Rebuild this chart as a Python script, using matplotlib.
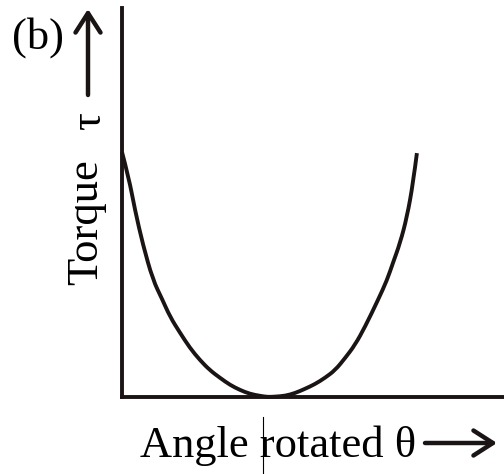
import matplotlib.pyplot as plt
from matplotlib.path import Path
from matplotlib.patches import PathPatch

# torque vs. angle rotated (arbitrary units)
theta = [0.00, 0.18, 0.34, 0.55, 0.81, 1.05, 1.26, 1.52, 1.78, 2.04, 2.30, 2.57,
         2.83, 3.09, 3.35, 3.61, 3.82, 4.01, 4.27, 4.53, 4.79, 5.05, 5.31, 5.58,
         5.84, 6.10, 6.36, 6.70, 6.94, 7.09, 7.28, 7.46, 7.62, 7.72]
torque = [6.30, 5.63, 4.81, 3.91, 3.01, 2.52, 2.06, 1.65, 1.26, 0.95, 0.69, 0.49,
          0.31, 0.18, 0.08, 0.03, 0.00, 0.01, 0.03, 0.10, 0.21, 0.33, 0.49, 0.69,
          1.00, 1.34, 1.80, 2.49, 3.01, 3.44, 3.96, 4.63, 5.50, 6.27]

plt.rcParams['font.family'] = ['Liberation Serif', 'DejaVu Serif']
lw = 2.8
ink = '#1a1414'


def smooth_path(xs, ys):
    # quadratic bezier through midpoints, the given points act as controls
    pts = list(zip(xs, ys))
    verts = [pts[0]]
    codes = [Path.MOVETO]
    for i in range(1, len(pts) - 1):
        nxt = pts[i + 1]
        if i < len(pts) - 2:
            end = ((pts[i][0] + nxt[0]) / 2, (pts[i][1] + nxt[1]) / 2)
        else:
            end = nxt
        verts += [pts[i], end]
        codes += [Path.CURVE3, Path.CURVE3]
    return Path(verts, codes)


fig = plt.figure(figsize=(5.04, 4.74), dpi=100)
ax = fig.add_axes([0.242, 0.1624, 0.758, 0.8207])
ax.add_patch(PathPatch(smooth_path(theta, torque), fill=False, lw=lw,
                       edgecolor=ink, capstyle='butt', clip_on=False))
ax.set_xlim(0, 10)
ax.set_ylim(0, 10)
ax.set_xticks([])
ax.set_yticks([])
for side in ('top', 'right'):
    ax.spines[side].set_visible(False)
for side in ('left', 'bottom'):
    ax.spines[side].set_linewidth(lw)
    ax.spines[side].set_color(ink)

# thin marker line under the minimum
ax.axvline(3.69, ymin=-0.051, ymax=-0.2, color='black', lw=0.8, clip_on=False)

fs = 32
fig.text(38 / 504, 1 - 38 / 474, '(b)', fontsize=fs, ha='center', va='center')
fig.text(86 / 504, 1 - 222 / 474, 'Torque', fontsize=fs, rotation=90,
         ha='center', va='center')
fig.text(89 / 504, 1 - 121 / 474, 'τ', fontsize=fs, rotation=90,
         ha='center', va='center')
fig.text(140 / 504, 1 - 457 / 474, 'Angle rotated θ', fontsize=fs,
         ha='left', va='baseline')

arrow = dict(arrowstyle='->,head_length=0.7,head_width=0.45', lw=lw + 0.4,
             color=ink, mutation_scale=20, shrinkA=0, shrinkB=0)
ax.annotate('', xy=(88 / 504, 1 - 9 / 474), xytext=(88 / 504, 1 - 95 / 474),
            xycoords='figure fraction', textcoords='figure fraction',
            arrowprops=arrow)
ax.annotate('', xy=(497 / 504, 1 - 443 / 474), xytext=(425 / 504, 1 - 443 / 474),
            xycoords='figure fraction', textcoords='figure fraction',
            arrowprops=arrow)

fig.savefig('out.png', dpi=100)
